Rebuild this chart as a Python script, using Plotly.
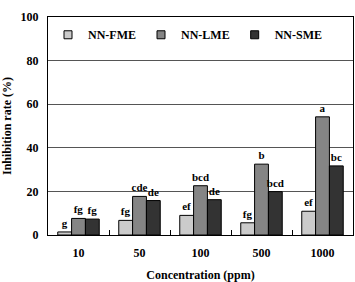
import plotly.graph_objects as go

categories = ["10", "50", "100", "500", "1000"]
fme = [1.4, 6.7, 9.0, 5.6, 10.9]
lme = [7.6, 17.7, 22.6, 32.5, 54.2]
sme = [7.3, 15.8, 16.2, 19.9, 31.7]
fme_letters = ["g", "fg", "ef", "fg", "ef"]
lme_letters = ["fg", "cde", "bcd", "b", "a"]
sme_letters = ["fg", "de", "de", "bcd", "bc"]

series = [
    ("NN-FME", fme, fme_letters, "#cbcbcb"),
    ("NN-LME", lme, lme_letters, "#858585"),
    ("NN-SME", sme, sme_letters, "#333333"),
]

FONT = "Liberation Serif"
fig = go.Figure()
for name, vals, letters, color in series:
    fig.add_trace(go.Bar(
        x=categories, y=vals, name=name, text=letters,
        textposition="outside", constraintext="none", cliponaxis=False,
        textfont=dict(family=FONT, size=11, color="black", weight="bold"),
        marker=dict(color=color, line=dict(color="black", width=1)),
        showlegend=False,
    ))
    fig.add_trace(go.Scatter(
        x=[None], y=[None], mode="markers", name=name,
        marker=dict(symbol="square", size=8, color=color,
                    line=dict(color="black", width=1)),
    ))

fig.update_layout(
    width=355, height=282,
    margin=dict(l=48, r=2, t=17, b=47),
    paper_bgcolor="white", plot_bgcolor="white",
    barmode="group", bargap=0.32, bargroupgap=0,
    font=dict(family=FONT, size=12, color="black", weight="bold"),
    legend=dict(orientation="h", x=0.0, y=0.985, xanchor="left", yanchor="top",
                font=dict(family=FONT, size=12, color="black", weight="bold"),
                bgcolor="rgba(0,0,0,0)", itemwidth=30),
    xaxis=dict(
        type="category", showline=True, linecolor="black", linewidth=1, mirror=True,
        ticks="inside", tickson="boundaries", ticklen=5, tickcolor="black",
        tickfont=dict(family=FONT, size=12, weight="bold"),
        ticklabelstandoff=7,
        title=dict(text="Concentration (ppm)", font=dict(family=FONT, size=12, weight="bold"), standoff=11),
    ),
    yaxis=dict(
        range=[0, 100], dtick=20, showline=True, linecolor="black", linewidth=1, mirror=True,
        showgrid=True, gridcolor="#555555", gridwidth=1, zeroline=False,
        ticks="", tickfont=dict(family=FONT, size=12, weight="bold"),
        ticklabelstandoff=6,
        title=dict(text="Inhibition rate (%)", font=dict(family=FONT, size=12, weight="bold"), standoff=9),
    ),
)

fig.write_html("out.html")
